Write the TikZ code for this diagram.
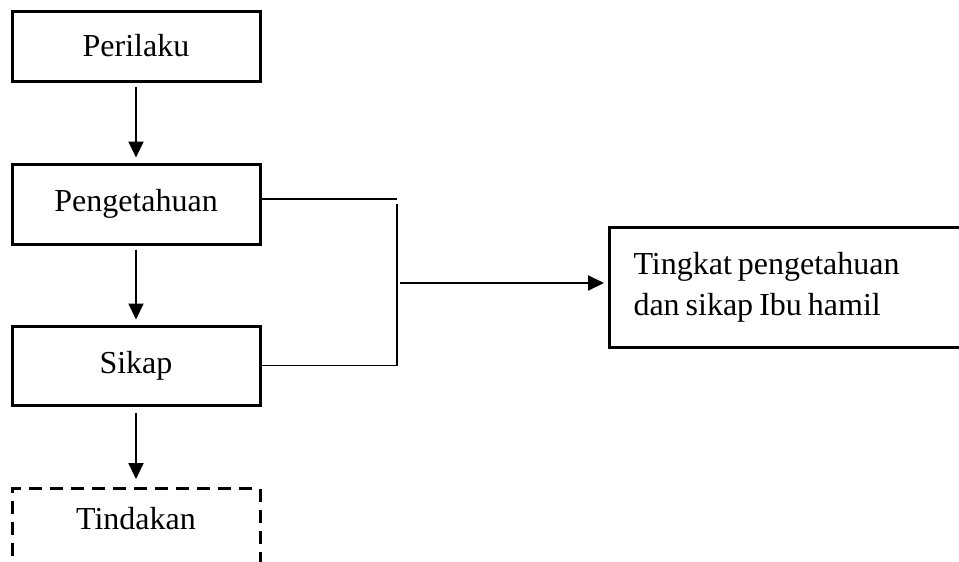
\documentclass[tikz,border=0pt]{standalone}
\usepackage{fontspec}
\setmainfont{Liberation Serif}
\usetikzlibrary{arrows.meta,positioning}

\begin{document}
\begin{tikzpicture}[x=1pt, y=-1pt,
		box/.style={draw, line width=3pt, minimum width=248pt, inner sep=0pt, font=\fontsize{32}{41}\selectfont},
		dashbox/.style={box, dash pattern=on 13pt off 8pt},
		flow/.style={-{Triangle[length=16pt,width=15pt]}, line width=2.2pt},
		thinline/.style={line width=1.5pt}]
		
		% Frame
		\clip (0,0) rectangle (959,562);
		
		% Draw Shape
		\node[box, minimum height=70pt] (perilaku) at (136,46) {Perilaku};
		\node[box, minimum height=80pt] (pengetahuan) at (136,204) {Pengetahuan};
		\node[box, minimum height=79pt] (sikap) at (136,365.5) {Sikap};
		\node[dashbox, anchor=north, text height=41pt, text depth=60pt] (tindakan) at (136,487) {Tindakan};
		\node[box, anchor=north west, minimum height=120pt, text width=380pt, inner xsep=24pt, align=left] (hasil) at (608,226)
			{\spaceskip=6pt\relax Tingkat pengetahuan\\dan sikap Ibu hamil};
		
		% Arrows
		\draw[flow, shorten <=4pt, shorten >=5pt] (perilaku) -- (pengetahuan);
		\draw[flow, shorten <=4pt, shorten >=5pt] (pengetahuan) -- (sikap);
		\draw[flow, shorten <=6pt, shorten >=8pt] (sikap) -- (tindakan);
		
		% Bracket
		\coordinate (btop) at (397,204);
		\coordinate (join) at (400,283);
		\draw[thinline] ([yshift=5pt]pengetahuan.east) -- ++(135,0);
		\draw[thinline] (sikap.east) -| (btop);
		\draw[flow, line width=2pt, shorten >=4pt] (join) -- (join -| hasil.west);
		
		\end{tikzpicture}
\end{document}
